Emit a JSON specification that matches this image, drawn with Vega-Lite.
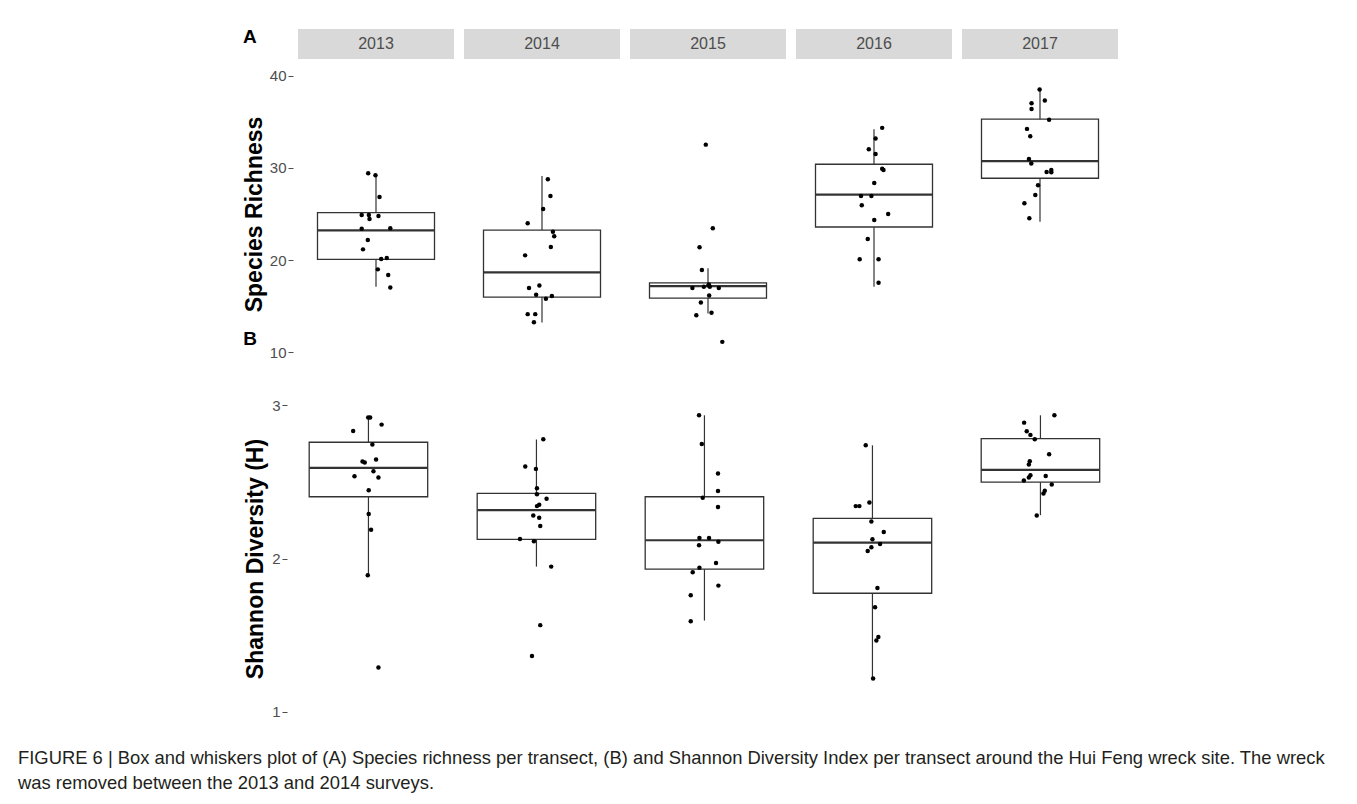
{
  "$schema": "https://vega.github.io/schema/vega-lite/v6.json",
  "padding": {"left": 18, "top": 28, "right": 10, "bottom": 4},
  "background": "white",
  "title": {
    "text": ["FIGURE 6 | Box and whiskers plot of (A) Species richness per transect, (B) and Shannon Diversity Index per transect around the Hui Feng wreck site. The wreck", "was removed between the 2013 and 2014 surveys."],
    "orient": "bottom", "anchor": "start", "frame": "bounds", "dx": -225, "offset": 22,
    "fontSize": 18.4, "fontWeight": "normal", "lineHeight": 25, "color": "#231F20", "baseline": "top", "font": "Liberation Sans"
  },
  "data": {"values": [
    {"k":"b","p":"A","yr":"2013","lo":17.1,"q1":20.08,"med":23.23,"q3":25.14,"hi":29.24},
    {"k":"b","p":"A","yr":"2014","lo":13.23,"q1":15.98,"med":18.66,"q3":23.26,"hi":29.13},
    {"k":"b","p":"A","yr":"2015","lo":14.2,"q1":15.87,"med":17.17,"q3":17.53,"hi":19.1},
    {"k":"b","p":"A","yr":"2016","lo":17.1,"q1":23.59,"med":27.1,"q3":30.4,"hi":34.2},
    {"k":"b","p":"A","yr":"2017","lo":24.16,"q1":28.88,"med":30.73,"q3":35.29,"hi":38.66},
    {"k":"b","p":"B","yr":"2013","lo":1.893,"q1":2.403,"med":2.592,"q3":2.759,"hi":2.92},
    {"k":"b","p":"B","yr":"2014","lo":1.947,"q1":2.125,"med":2.316,"q3":2.425,"hi":2.777},
    {"k":"b","p":"B","yr":"2015","lo":1.595,"q1":1.93,"med":2.119,"q3":2.403,"hi":2.935},
    {"k":"b","p":"B","yr":"2016","lo":1.22,"q1":1.773,"med":2.103,"q3":2.262,"hi":2.739},
    {"k":"b","p":"B","yr":"2017","lo":2.283,"q1":2.498,"med":2.578,"q3":2.783,"hi":2.935},
    {"k":"p","p":"A","yr":"2013","j":-0.06,"v":29.42},{"k":"p","p":"A","yr":"2013","j":-0.004,"v":29.2},{"k":"p","p":"A","yr":"2013","j":0.027,"v":26.85},{"k":"p","p":"A","yr":"2013","j":-0.11,"v":24.89},{"k":"p","p":"A","yr":"2013","j":-0.055,"v":24.89},{"k":"p","p":"A","yr":"2013","j":-0.05,"v":24.46},{"k":"p","p":"A","yr":"2013","j":0.019,"v":24.78},{"k":"p","p":"A","yr":"2013","j":-0.11,"v":23.4},{"k":"p","p":"A","yr":"2013","j":0.11,"v":23.45},{"k":"p","p":"A","yr":"2013","j":-0.063,"v":22.17},{"k":"p","p":"A","yr":"2013","j":-0.1,"v":21.16},{"k":"p","p":"A","yr":"2013","j":0.04,"v":20.11},{"k":"p","p":"A","yr":"2013","j":0.083,"v":20.22},{"k":"p","p":"A","yr":"2013","j":0.014,"v":18.99},{"k":"p","p":"A","yr":"2013","j":0.094,"v":18.37},{"k":"p","p":"A","yr":"2013","j":0.11,"v":17.03},
    {"k":"p","p":"A","yr":"2014","j":0.045,"v":28.77},{"k":"p","p":"A","yr":"2014","j":0.065,"v":26.96},{"k":"p","p":"A","yr":"2014","j":0.009,"v":25.54},{"k":"p","p":"A","yr":"2014","j":-0.11,"v":23.99},{"k":"p","p":"A","yr":"2014","j":0.084,"v":23.08},{"k":"p","p":"A","yr":"2014","j":0.094,"v":22.58},{"k":"p","p":"A","yr":"2014","j":0.068,"v":21.41},{"k":"p","p":"A","yr":"2014","j":-0.13,"v":20.51},{"k":"p","p":"A","yr":"2014","j":-0.1,"v":16.96},{"k":"p","p":"A","yr":"2014","j":-0.02,"v":17.25},{"k":"p","p":"A","yr":"2014","j":-0.045,"v":16.23},{"k":"p","p":"A","yr":"2014","j":0.03,"v":15.8},{"k":"p","p":"A","yr":"2014","j":0.076,"v":16.09},{"k":"p","p":"A","yr":"2014","j":-0.11,"v":14.13},{"k":"p","p":"A","yr":"2014","j":-0.052,"v":14.13},{"k":"p","p":"A","yr":"2014","j":-0.062,"v":13.26},
    {"k":"p","p":"A","yr":"2015","j":-0.017,"v":32.53},{"k":"p","p":"A","yr":"2015","j":0.037,"v":23.45},{"k":"p","p":"A","yr":"2015","j":-0.065,"v":21.38},{"k":"p","p":"A","yr":"2015","j":-0.047,"v":18.91},{"k":"p","p":"A","yr":"2015","j":-0.12,"v":16.96},{"k":"p","p":"A","yr":"2015","j":-0.032,"v":17.1},{"k":"p","p":"A","yr":"2015","j":0.004,"v":17.25},{"k":"p","p":"A","yr":"2015","j":0.014,"v":17.1},{"k":"p","p":"A","yr":"2015","j":0.083,"v":16.96},{"k":"p","p":"A","yr":"2015","j":0.009,"v":16.16},{"k":"p","p":"A","yr":"2015","j":-0.055,"v":15.4},{"k":"p","p":"A","yr":"2015","j":0.027,"v":14.27},{"k":"p","p":"A","yr":"2015","j":-0.09,"v":14.02},{"k":"p","p":"A","yr":"2015","j":0.11,"v":11.12},{"k":"p","p":"A","yr":"2015","j":0.006,"v":17.36},
    {"k":"p","p":"A","yr":"2016","j":0.063,"v":34.35},{"k":"p","p":"A","yr":"2016","j":0.012,"v":33.19},{"k":"p","p":"A","yr":"2016","j":-0.04,"v":32.03},{"k":"p","p":"A","yr":"2016","j":0.012,"v":31.52},{"k":"p","p":"A","yr":"2016","j":0.063,"v":29.92},{"k":"p","p":"A","yr":"2016","j":0.073,"v":29.78},{"k":"p","p":"A","yr":"2016","j":0.002,"v":28.37},{"k":"p","p":"A","yr":"2016","j":-0.1,"v":26.96},{"k":"p","p":"A","yr":"2016","j":-0.02,"v":26.96},{"k":"p","p":"A","yr":"2016","j":-0.094,"v":25.95},{"k":"p","p":"A","yr":"2016","j":0.109,"v":25.0},{"k":"p","p":"A","yr":"2016","j":0.002,"v":24.35},{"k":"p","p":"A","yr":"2016","j":-0.048,"v":22.28},{"k":"p","p":"A","yr":"2016","j":-0.11,"v":20.08},{"k":"p","p":"A","yr":"2016","j":0.035,"v":20.08},{"k":"p","p":"A","yr":"2016","j":0.035,"v":17.53},
    {"k":"p","p":"A","yr":"2017","j":-0.003,"v":38.51},{"k":"p","p":"A","yr":"2017","j":0.037,"v":37.32},{"k":"p","p":"A","yr":"2017","j":-0.065,"v":37.03},{"k":"p","p":"A","yr":"2017","j":-0.065,"v":36.41},{"k":"p","p":"A","yr":"2017","j":0.07,"v":35.22},{"k":"p","p":"A","yr":"2017","j":-0.1,"v":34.24},{"k":"p","p":"A","yr":"2017","j":-0.075,"v":33.45},{"k":"p","p":"A","yr":"2017","j":-0.085,"v":30.98},{"k":"p","p":"A","yr":"2017","j":-0.067,"v":30.47},{"k":"p","p":"A","yr":"2017","j":0.051,"v":29.57},{"k":"p","p":"A","yr":"2017","j":0.087,"v":29.78},{"k":"p","p":"A","yr":"2017","j":0.087,"v":29.53},{"k":"p","p":"A","yr":"2017","j":-0.015,"v":28.12},{"k":"p","p":"A","yr":"2017","j":-0.036,"v":27.07},{"k":"p","p":"A","yr":"2017","j":-0.12,"v":26.16},{"k":"p","p":"A","yr":"2017","j":-0.082,"v":24.53},
    {"k":"p","p":"B","yr":"2013","j":-0.002,"v":2.92},{"k":"p","p":"B","yr":"2013","j":0.013,"v":2.92},{"k":"p","p":"B","yr":"2013","j":0.1,"v":2.874},{"k":"p","p":"B","yr":"2013","j":-0.116,"v":2.833},{"k":"p","p":"B","yr":"2013","j":0.03,"v":2.744},{"k":"p","p":"B","yr":"2013","j":-0.045,"v":2.633},{"k":"p","p":"B","yr":"2013","j":-0.028,"v":2.627},{"k":"p","p":"B","yr":"2013","j":0.058,"v":2.646},{"k":"p","p":"B","yr":"2013","j":0.038,"v":2.57},{"k":"p","p":"B","yr":"2013","j":-0.106,"v":2.537},{"k":"p","p":"B","yr":"2013","j":0.076,"v":2.529},{"k":"p","p":"B","yr":"2013","j":0.002,"v":2.446},{"k":"p","p":"B","yr":"2013","j":0.002,"v":2.29},{"k":"p","p":"B","yr":"2013","j":0.02,"v":2.188},{"k":"p","p":"B","yr":"2013","j":-0.005,"v":1.891},{"k":"p","p":"B","yr":"2013","j":0.076,"v":1.289},
    {"k":"p","p":"B","yr":"2014","j":0.052,"v":2.778},{"k":"p","p":"B","yr":"2014","j":-0.085,"v":2.601},{"k":"p","p":"B","yr":"2014","j":-0.004,"v":2.585},{"k":"p","p":"B","yr":"2014","j":0.004,"v":2.459},{"k":"p","p":"B","yr":"2014","j":0.004,"v":2.42},{"k":"p","p":"B","yr":"2014","j":0.077,"v":2.39},{"k":"p","p":"B","yr":"2014","j":0.021,"v":2.351},{"k":"p","p":"B","yr":"2014","j":0.004,"v":2.342},{"k":"p","p":"B","yr":"2014","j":-0.024,"v":2.281},{"k":"p","p":"B","yr":"2014","j":0.021,"v":2.266},{"k":"p","p":"B","yr":"2014","j":0.029,"v":2.212},{"k":"p","p":"B","yr":"2014","j":-0.125,"v":2.127},{"k":"p","p":"B","yr":"2014","j":-0.019,"v":2.112},{"k":"p","p":"B","yr":"2014","j":0.112,"v":1.947},{"k":"p","p":"B","yr":"2014","j":0.029,"v":1.565},{"k":"p","p":"B","yr":"2014","j":-0.034,"v":1.363},
    {"k":"p","p":"B","yr":"2015","j":-0.041,"v":2.935},{"k":"p","p":"B","yr":"2015","j":-0.02,"v":2.748},{"k":"p","p":"B","yr":"2015","j":0.103,"v":2.555},{"k":"p","p":"B","yr":"2015","j":0.103,"v":2.44},{"k":"p","p":"B","yr":"2015","j":-0.013,"v":2.396},{"k":"p","p":"B","yr":"2015","j":0.103,"v":2.336},{"k":"p","p":"B","yr":"2015","j":-0.038,"v":2.134},{"k":"p","p":"B","yr":"2015","j":0.035,"v":2.134},{"k":"p","p":"B","yr":"2015","j":0.106,"v":2.11},{"k":"p","p":"B","yr":"2015","j":-0.041,"v":2.086},{"k":"p","p":"B","yr":"2015","j":0.088,"v":1.971},{"k":"p","p":"B","yr":"2015","j":-0.038,"v":1.94},{"k":"p","p":"B","yr":"2015","j":-0.089,"v":1.91},{"k":"p","p":"B","yr":"2015","j":0.106,"v":1.823},{"k":"p","p":"B","yr":"2015","j":-0.104,"v":1.76},{"k":"p","p":"B","yr":"2015","j":-0.104,"v":1.59},
    {"k":"p","p":"B","yr":"2016","j":-0.051,"v":2.739},{"k":"p","p":"B","yr":"2016","j":-0.127,"v":2.342},{"k":"p","p":"B","yr":"2016","j":-0.099,"v":2.342},{"k":"p","p":"B","yr":"2016","j":-0.023,"v":2.366},{"k":"p","p":"B","yr":"2016","j":-0.008,"v":2.242},{"k":"p","p":"B","yr":"2016","j":0.086,"v":2.173},{"k":"p","p":"B","yr":"2016","j":0.0,"v":2.125},{"k":"p","p":"B","yr":"2016","j":0.058,"v":2.094},{"k":"p","p":"B","yr":"2016","j":-0.008,"v":2.073},{"k":"p","p":"B","yr":"2016","j":-0.036,"v":2.049},{"k":"p","p":"B","yr":"2016","j":0.038,"v":1.808},{"k":"p","p":"B","yr":"2016","j":0.02,"v":1.682},{"k":"p","p":"B","yr":"2016","j":0.045,"v":1.487},{"k":"p","p":"B","yr":"2016","j":0.03,"v":1.464},{"k":"p","p":"B","yr":"2016","j":0.005,"v":1.217},
    {"k":"p","p":"B","yr":"2017","j":0.106,"v":2.935},{"k":"p","p":"B","yr":"2017","j":-0.124,"v":2.887},{"k":"p","p":"B","yr":"2017","j":-0.104,"v":2.831},{"k":"p","p":"B","yr":"2017","j":-0.076,"v":2.807},{"k":"p","p":"B","yr":"2017","j":-0.043,"v":2.778},{"k":"p","p":"B","yr":"2017","j":0.066,"v":2.681},{"k":"p","p":"B","yr":"2017","j":-0.081,"v":2.635},{"k":"p","p":"B","yr":"2017","j":-0.088,"v":2.614},{"k":"p","p":"B","yr":"2017","j":-0.076,"v":2.544},{"k":"p","p":"B","yr":"2017","j":-0.088,"v":2.529},{"k":"p","p":"B","yr":"2017","j":-0.126,"v":2.509},{"k":"p","p":"B","yr":"2017","j":0.04,"v":2.539},{"k":"p","p":"B","yr":"2017","j":0.086,"v":2.483},{"k":"p","p":"B","yr":"2017","j":0.033,"v":2.442},{"k":"p","p":"B","yr":"2017","j":0.023,"v":2.425},{"k":"p","p":"B","yr":"2017","j":-0.028,"v":2.281}
  ]},
  "spacing": 24,
  "vconcat": [
    {
      "spacing": 3,
      "vconcat": [
        {
          "transform": [{"filter": "datum.k === 'b' && datum.p === 'A'"}],
          "title": {"text": "A", "orient": "bottom", "anchor": "start", "frame": "group", "offset": 0, "dx": -55, "dy": -16, "fontSize": 19, "fontWeight": "bold", "baseline": "alphabetic", "color": "black"},
          "facet": {"column": {"field": "yr", "type": "nominal", "header": null}},
          "spacing": 10,
          "spec": {
            "width": 156, "height": 30,
            "view": {"fill": "#D9D9D9", "stroke": null},
            "mark": {"type": "text", "fontSize": 16, "color": "#4D4D4D", "baseline": "middle", "align": "center"},
            "encoding": {"text": {"field": "yr", "type": "nominal"}}
          }
        },
        {
          "transform": [{"filter": "datum.p === 'A'"}],
          "title": {"text": "B", "orient": "bottom", "anchor": "start", "frame": "bounds", "offset": 0, "dy": -21, "fontSize": 19, "fontWeight": "bold", "baseline": "alphabetic", "color": "black"},
          "facet": {"column": {"field": "yr", "type": "nominal", "header": null}},
          "spacing": 10,
          "spec": {
            "width": 156, "height": 304,
            "layer": [
              {
                "transform": [{"filter": "datum.k === 'b'"}],
                "mark": {"type": "rule", "color": "#333333", "strokeWidth": 1.2},
                "encoding": {
                  "x": {"datum": 0, "type": "quantitative", "scale": {"domain": [-0.6, 0.6], "nice": false, "zero": false}, "axis": null},
                  "y": {"field": "lo", "type": "quantitative", "scale": {"domain": [8.5, 41.5], "nice": false, "zero": false},
                        "axis": {"values": [10, 20, 30, 40], "title": "Species Richness"}},
                  "y2": {"field": "hi"}
                }
              },
              {
                "transform": [{"filter": "datum.k === 'b'"}],
                "mark": {"type": "rect", "fill": "white", "stroke": "#333333", "strokeWidth": 1.3},
                "encoding": {
                  "x": {"datum": -0.45, "type": "quantitative", "axis": null},
                  "x2": {"datum": 0.45},
                  "y": {"field": "q1", "type": "quantitative", "title": "Species Richness"},
                  "y2": {"field": "q3"}
                }
              },
              {
                "transform": [{"filter": "datum.k === 'b'"}],
                "mark": {"type": "rule", "color": "#333333", "strokeWidth": 2.2},
                "encoding": {
                  "x": {"datum": -0.45, "type": "quantitative", "axis": null},
                  "x2": {"datum": 0.45},
                  "y": {"field": "med", "type": "quantitative", "title": "Species Richness"}
                }
              },
              {
                "transform": [{"filter": "datum.k === 'p'"}],
                "mark": {"type": "circle", "size": 20, "color": "black", "opacity": 1},
                "encoding": {
                  "x": {"field": "j", "type": "quantitative", "axis": null},
                  "y": {"field": "v", "type": "quantitative", "title": "Species Richness"}
                }
              }
            ]
          }
        }
      ]
    },
    {
      "transform": [{"filter": "datum.p === 'B'"}],
      "facet": {"column": {"field": "yr", "type": "nominal", "header": null}},
      "spacing": 10,
      "spec": {
        "width": 158, "height": 337,
        "layer": [
          {
            "transform": [{"filter": "datum.k === 'b'"}],
            "mark": {"type": "rule", "color": "#333333", "strokeWidth": 1.2},
            "encoding": {
              "x": {"datum": 0, "type": "quantitative", "scale": {"domain": [-0.535, 0.665], "nice": false, "zero": false}, "axis": null},
              "y": {"field": "lo", "type": "quantitative", "scale": {"domain": [0.9, 3.1], "nice": false, "zero": false},
                    "axis": {"values": [1, 2, 3], "format": "d", "title": "Shannon Diversity (H)", "offset": 11, "titlePadding": 4}},
              "y2": {"field": "hi"}
            }
          },
          {
            "transform": [{"filter": "datum.k === 'b'"}],
            "mark": {"type": "rect", "fill": "white", "stroke": "#333333", "strokeWidth": 1.3},
            "encoding": {
              "x": {"datum": -0.45, "type": "quantitative", "axis": null},
              "x2": {"datum": 0.45},
              "y": {"field": "q1", "type": "quantitative", "title": "Shannon Diversity (H)"},
              "y2": {"field": "q3"}
            }
          },
          {
            "transform": [{"filter": "datum.k === 'b'"}],
            "mark": {"type": "rule", "color": "#333333", "strokeWidth": 2.2},
            "encoding": {
              "x": {"datum": -0.45, "type": "quantitative", "axis": null},
              "x2": {"datum": 0.45},
              "y": {"field": "med", "type": "quantitative", "title": "Shannon Diversity (H)"}
            }
          },
          {
            "transform": [{"filter": "datum.k === 'p'"}],
            "mark": {"type": "circle", "size": 20, "color": "black", "opacity": 1},
            "encoding": {
              "x": {"field": "j", "type": "quantitative", "axis": null},
              "y": {"field": "v", "type": "quantitative", "title": "Shannon Diversity (H)"}
            }
          }
        ]
      }
    }
  ],
  "config": {
    "font": "Liberation Sans",
    "view": {"stroke": null},
    "axis": {
      "grid": false, "domain": false,
      "labelFontSize": 15, "labelColor": "#4D4D4D", "labelPadding": 2,
      "tickColor": "#4D4D4D", "tickSize": 5, "tickWidth": 1, "offset": 5,
      "titleFontSize": 23, "titleFontWeight": "bold", "titleColor": "black", "titlePadding": 3
    }
  }
}
